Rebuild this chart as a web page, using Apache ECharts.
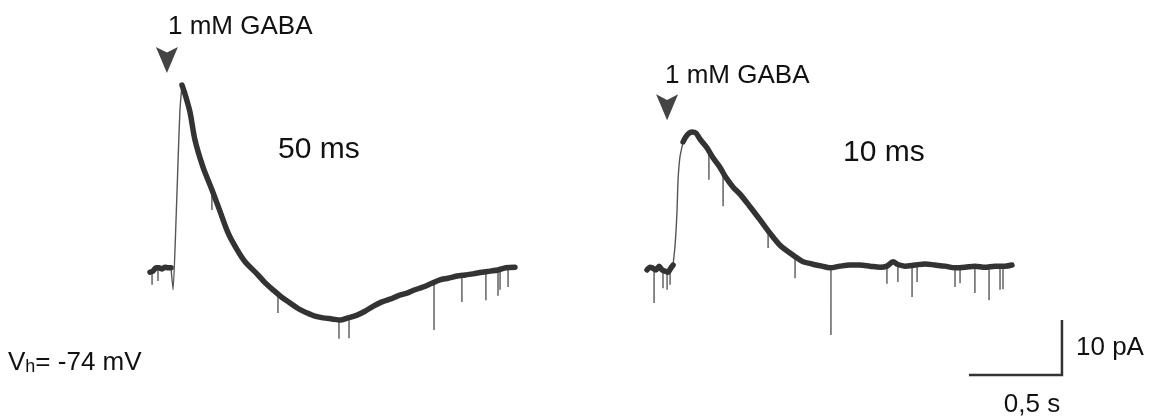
<!DOCTYPE html>
<html>
<head>
<meta charset="utf-8">
<script src="https://cdn.jsdelivr.net/npm/echarts@6/dist/echarts.min.js"></script>
<style>
  html, body { margin: 0; padding: 0; background: #fff; }
  #chart { width: 1151px; height: 416px; }
</style>
</head>
<body>
<div id="chart"></div>
<script>
// GABA-evoked currents at Vh = -74 mV. Time in s from sweep start,
// current in pA relative to the holding baseline (upward = positive).

// 50 ms application
const trace50Baseline = [[0.000,-0.4],[0.016,-0.2],[0.032,0.4],[0.048,0.4],[0.065,0.2],[0.081,0.5],[0.097,0.4],[0.113,0.4]];
const trace50Rise = [[0.124,-3.6],[0.140,9.1],[0.151,20.0],[0.161,29.1]];
const trace50Decay = [
  [0.172,33.6],[0.188,32.0],[0.215,28.7],[0.242,23.6],[0.285,18.7],[0.333,14.6],[0.376,10.7],
  [0.419,6.8],[0.468,3.7],[0.511,1.5],[0.575,-0.7],[0.618,-2.3],[0.661,-3.6],[0.710,-5.0],
  [0.753,-6.0],[0.796,-7.0],[0.844,-7.8],[0.887,-8.4],[0.930,-8.7],[0.978,-8.9],[1.022,-9.1],
  [1.065,-8.7],[1.113,-8.2],[1.156,-7.5],[1.199,-6.6],[1.247,-5.8],[1.290,-5.3],[1.333,-4.7],
  [1.382,-4.2],[1.425,-3.6],[1.468,-3.1],[1.516,-2.4],[1.559,-1.8],[1.602,-1.5],[1.651,-1.1],
  [1.694,-0.9],[1.737,-0.7],[1.785,-0.4],[1.828,-0.2],[1.871,0.0],[1.914,0.4],[1.962,0.5]
];
// spontaneous inward events: [time, start current, peak current]
const trace50Spikes = [
  [0.011,0.0,-2.7],[0.043,0.4,-2.0],[0.333,14.6,10.9],[0.688,-4.2,-7.8],[1.016,-9.1,-12.5],
  [1.070,-8.6,-12.4],[1.527,-2.2,-10.9],[1.677,-1.1,-5.8],[1.806,-0.3,-5.5],[1.871,0.0,-4.7],
  [1.882,0.1,-3.6],[1.925,0.4,-3.1]
];

// 10 ms application
const trace10Baseline = [[0.000,0.0],[0.016,0.5],[0.027,0.4],[0.048,0.0],[0.065,0.7],[0.081,0.0],[0.097,-0.2],[0.113,-0.4],[0.129,0.4],[0.140,0.9]];
const trace10Rise = [[0.151,4.5],[0.161,10.4],[0.167,16.4],[0.177,20.5]];
const trace10Decay = [
  [0.194,23.3],[0.215,24.5],[0.242,25.1],[0.263,24.9],[0.285,23.8],[0.306,22.9],[0.323,22.2],
  [0.355,20.4],[0.392,18.7],[0.419,17.1],[0.462,15.1],[0.500,13.8],[0.554,11.5],[0.608,9.1],
  [0.661,6.7],[0.715,4.5],[0.769,3.1],[0.806,2.2],[0.839,1.5],[0.887,1.1],[0.941,0.7],
  [0.984,0.4],[1.038,0.7],[1.091,0.9],[1.145,0.9],[1.199,0.7],[1.253,0.5],[1.290,0.7],
  [1.323,1.5],[1.349,1.0],[1.387,0.7],[1.441,0.9],[1.495,1.1],[1.548,0.9],[1.602,0.7],
  [1.656,0.4],[1.710,0.5],[1.763,0.7],[1.817,0.5],[1.871,0.7],[1.925,0.7],[1.962,0.9]
];
const trace10Spikes = [
  [0.038,0.2,-6.0],[0.086,-0.2,-3.3],[0.108,-0.3,-3.6],[0.124,0.2,-2.7],[0.333,21.8,16.4],
  [0.409,18.2,11.6],[0.651,7.3,4.0],[0.796,2.5,-1.5],[0.989,0.5,-11.8],[1.290,0.9,-2.5],
  [1.349,1.1,-2.2],[1.425,0.9,-4.9],[1.452,0.9,-2.2],[1.656,0.5,-3.1],[1.683,0.5,-2.4],
  [1.763,0.7,-4.2],[1.839,0.7,-5.5],[1.898,0.7,-3.6],[1.914,0.7,-3.5]
];

// application onset markers: [time, current level of the arrow]
const gabaMarker50 = [0.091, 38.2];
const gabaMarker10 = [0.108, 29.6];

// calibration
const scaleBarTime = 0.5;     // s
const scaleBarCurrent = 10;   // pA
const scaleBarCorner = [2.231, -19.1];

const TRACE = '#333333';
const FONT = "'Liberation Sans', Arial, Helvetica, sans-serif";
const ARROW = 'path://M0,0L50,22L100,0L50,100Z';

function riseLine(base, rise, decay) {
  return [base[base.length - 1], ...rise, decay[0]];
}
function spikeLines(spikes) {
  const out = [];
  spikes.forEach(([t, from, to]) => { out.push([t, from], [t, to], [t, '-']); });
  return out;
}
function traceSeries(idx, base, rise, decay, spikes, marker) {
  const common = { type: 'line', xAxisIndex: idx, yAxisIndex: idx, symbol: 'none', silent: true, animation: false };
  return [
    Object.assign({}, common, {
      data: spikeLines(spikes),
      connectNulls: false,
      lineStyle: { color: '#4a4a4a', width: 1.3 }
    }),
    Object.assign({}, common, {
      data: riseLine(base, rise, decay),
      smooth: 0.2,
      lineStyle: { color: '#555', width: 1.4 }
    }),
    Object.assign({}, common, {
      data: base,
      smooth: 0.2,
      lineStyle: { color: TRACE, width: 5.5, join: 'round', cap: 'round' },
      markPoint: {
        silent: true,
        animation: false,
        symbol: ARROW,
        symbolSize: [22, 26],
        itemStyle: { color: '#444' },
        label: { show: false },
        data: [{ coord: marker }]
      }
    }),
    Object.assign({}, common, {
      data: decay,
      smooth: 0.3,
      lineStyle: { color: TRACE, width: 5.5, join: 'round', cap: 'round' }
    })
  ];
}

const yMin = -25, yMax = 40;
const chart = echarts.init(document.getElementById('chart'), null, { renderer: 'canvas' });
chart.setOption({
  backgroundColor: '#ffffff',
  animation: false,
  grid: [
    { left: 150, top: 50, width: 372, height: 357.5 },
    { left: 647, top: 50, width: 446.4, height: 357.5 }
  ],
  xAxis: [
    { type: 'value', gridIndex: 0, min: 0, max: 2.0, show: false },
    { type: 'value', gridIndex: 1, min: 0, max: 2.4, show: false }
  ],
  yAxis: [
    { type: 'value', gridIndex: 0, min: yMin, max: yMax, show: false },
    { type: 'value', gridIndex: 1, min: yMin, max: yMax, show: false }
  ],
  series: [
    ...traceSeries(0, trace50Baseline, trace50Rise, trace50Decay, trace50Spikes, gabaMarker50),
    ...traceSeries(1, trace10Baseline, trace10Rise, trace10Decay, trace10Spikes, gabaMarker10),
    {
      type: 'line', xAxisIndex: 1, yAxisIndex: 1, symbol: 'none', silent: true, animation: false,
      data: [
        [scaleBarCorner[0] - scaleBarTime, scaleBarCorner[1]],
        scaleBarCorner,
        [scaleBarCorner[0], scaleBarCorner[1] + scaleBarCurrent]
      ],
      lineStyle: { color: '#333', width: 2.5, join: 'miter', cap: 'butt' }
    }
  ],
  graphic: [
    { type: 'text', x: 168, y: 27, style: { text: '1 mM GABA', font: '26px ' + FONT, fill: '#111', verticalAlign: 'middle' } },
    { type: 'text', x: 665, y: 76, style: { text: '1 mM GABA', font: '26px ' + FONT, fill: '#111', verticalAlign: 'middle' } },
    { type: 'text', x: 278, y: 150, style: { text: '50 ms', font: '30px ' + FONT, fill: '#111', verticalAlign: 'middle' } },
    { type: 'text', x: 843, y: 153, style: { text: '10 ms', font: '30px ' + FONT, fill: '#111', verticalAlign: 'middle' } },
    {
      type: 'text', x: 8, y: 363,
      style: {
        text: '{v|V}{h|h}{v|= -74 mV}', verticalAlign: 'middle', fill: '#111',
        rich: {
          v: { fontSize: 26, fontFamily: FONT, fill: '#111', verticalAlign: 'bottom' },
          h: { fontSize: 18, fontFamily: FONT, fill: '#111', verticalAlign: 'bottom' }
        }
      }
    },
    { type: 'text', x: 1076, y: 348, style: { text: '10 pA', font: '26px ' + FONT, fill: '#111', verticalAlign: 'middle' } },
    { type: 'text', x: 1032, y: 405, style: { text: '0,5 s', font: '26px ' + FONT, fill: '#111', align: 'center', verticalAlign: 'middle' } }
  ]
});
</script>
</body>
</html>
